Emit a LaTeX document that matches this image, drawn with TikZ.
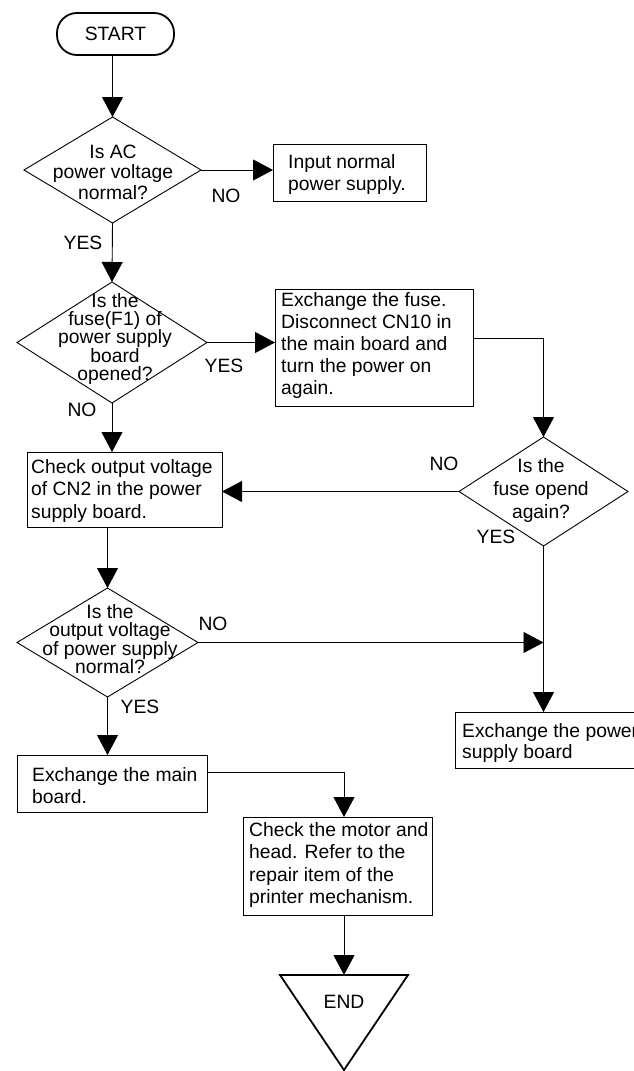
\documentclass[tikz,border=0pt]{standalone}
\usepackage{fontspec}
\setmainfont{Liberation Sans}
\usetikzlibrary{shapes.geometric,arrows.meta}
\begin{document}
\begin{tikzpicture}[x=1pt,y=-1pt,
  every node/.style={font=\fontsize{19.3}{22}\selectfont},
  box/.style={draw, rectangle, inner sep=0pt, outer sep=0pt, line width=0.9pt},
  dia/.style={draw, diamond, inner sep=0pt, outer sep=0pt, line width=0.9pt},
  txt/.style={inner sep=0pt, align=left, anchor=west},
  ctxt/.style={inner sep=0pt, align=center},
  lbl/.style={inner sep=0pt},
  line/.style={line width=0.9pt},
  arr/.style={line, -{Triangle[length=20pt,width=21pt]}},
]
\path[use as bounding box] (0,0) rectangle (634,1071);
\clip (0,0) rectangle (634,1071);
\fill[white] (0,0) rectangle (634,1071);

% START
\node[draw, line width=1.8pt, rounded corners=20pt, minimum width=117pt, minimum height=42pt, inner sep=0pt] (start) at (115.5,34) {START};

% decisions
\node[dia, minimum width=177pt, minimum height=106pt] (d1) at (112.5,170) {};
\node[ctxt, font=\fontsize{19.3}{20.5}\selectfont] (d1t) at (113,172) {Is AC\\power voltage\\normal?};

\node[dia, minimum width=190pt, minimum height=121pt] (d2) at (112,342.5) {};
\node[ctxt, font=\fontsize{19.3}{17.3}\selectfont] (d2t) at (115,339) {Is the\\fuse(F1) of\\power supply\\board\\opened?};

\node[dia, minimum width=169pt, minimum height=109pt] (d3) at (543.5,491.5) {};
\node[ctxt, font=\fontsize{19.3}{23}\selectfont] (d3t) at (541,491) {Is the\\fuse opend\\again?};

\node[dia, minimum width=181pt, minimum height=109pt] (d4) at (107.5,642.5) {};
\node[ctxt, font=\fontsize{19.3}{18.5}\selectfont] (d4t) at (110,639) {Is the\\output voltage\\of power supply\\normal?};

% process boxes
\node[box, minimum width=153pt, minimum height=57pt] (ib) at (349.5,172.5) {};
\node[txt] (ibt) at (288,175) {Input normal\\power supply.};

\node[box, minimum width=198pt, minimum height=117pt] (fb) at (374,347.5) {};
\node[txt] (fbt) at (281,346) {Exchange the fuse.\\Disconnect CN10 in\\the main board and\\turn the power on\\again.};

\node[box, minimum width=195pt, minimum height=75pt] (b2) at (124.5,489.5) {};
\node[txt, font=\fontsize{19.3}{22.5}\selectfont] (b2t) at (31,491) {Check output voltage\\of CN2 in the power\\supply board.};

\node[box, minimum width=245pt, minimum height=56pt] (pb) at (577.5,740) {};
\node[txt, font=\fontsize{19.3}{21}\selectfont] (pbt) at (462,743) {Exchange the power\\supply board};

\node[box, minimum width=190pt, minimum height=57pt] (mb) at (112,783.5) {};
\node[txt] (mbt) at (32,786) {Exchange the main\\board.};

\node[box, minimum width=189pt, minimum height=98pt] (mc) at (337.5,866) {};
\node[txt, font=\fontsize{19.3}{22.3}\selectfont] (mct) at (249,865) {Check the motor and\\head. Refer to the\\repair item of the\\printer mechanism.};

% END
\coordinate (endtop) at (344,975);
\draw[line width=1.8pt, line join=miter] (280,975) -- (408,975) -- (344,1070) -- cycle;
\node[lbl] (endt) at (344,1002) {END};

% labels
\node[lbl] (l1) at (226,196) {NO};
\node[lbl] (l2) at (83,243) {YES};
\node[lbl] (l3) at (224,366) {YES};
\node[lbl] (l4) at (82,410) {NO};
\node[lbl] (l5) at (444,464) {NO};
\node[lbl] (l6) at (496,537) {YES};
\node[lbl] (l7) at (213,624) {NO};
\node[lbl] (l8) at (140,707) {YES};

% connectors
\draw[arr] (start.south -| d1.north) -- (d1.north);
\draw[arr] (d1.east) -- (d1.east -| ib.west);
\draw[arr] (d1.south) -- (d2.north);
\draw[arr] (d2.east) -- (d2.east -| fb.west);
\coordinate (fbout) at (473,338);
\draw[arr] (fbout) -| (d3.north);
\draw[arr] (d3.west) -- (d3.west -| b2.east);
\draw[arr] (d2.south) -- (d2.south |- b2.north);
\draw[arr] (d4.north |- b2.south) -- (d4.north);
\coordinate (j) at (d3.south |- d4.east);
\draw[arr] (d3.south) -- (d3.south |- pb.north);
\draw[arr] (d4.east) -- (j);
\draw[arr] (d4.south) -- (d4.south |- mb.north);
\coordinate (mbout) at (207,772);
\coordinate (mcin) at (344,817);
\draw[arr] (mbout) -| (mcin);
\coordinate (mcout) at (344,915);
\draw[arr] (mcout) -- (endtop);
\end{tikzpicture}
\end{document}
